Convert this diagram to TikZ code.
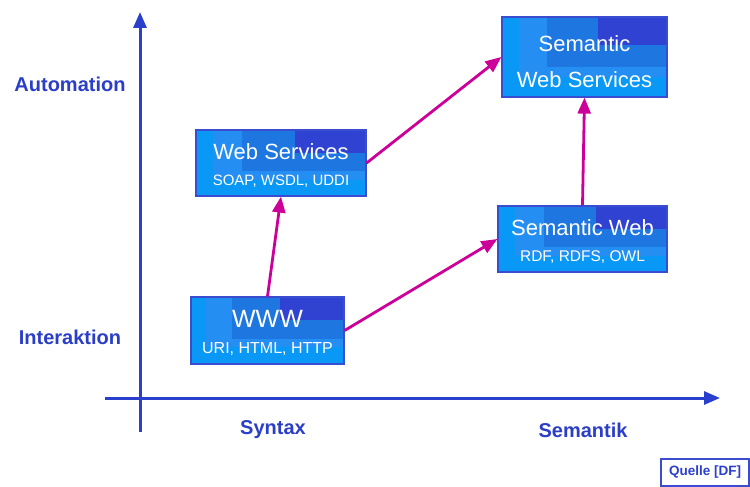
\documentclass[tikz,border=0pt]{standalone}
\usepackage{fontspec}
\setmainfont{Liberation Sans}
\usetikzlibrary{arrows.meta}
\definecolor{axisblue}{HTML}{2A3FCC}
\definecolor{labblue}{HTML}{2B3EC8}
\definecolor{cbase}{HTML}{0A98F6}
\definecolor{cA}{HTML}{258EF2}
\definecolor{cB}{HTML}{1E76E0}
\definecolor{cC}{HTML}{3042D2}
\definecolor{frameblue}{HTML}{3A4CD0}
\definecolor{arrmag}{HTML}{CC0099}
% name, x1, y1, x2, y2, title, subtitle, subtitle font size, title font size
\newcommand\layerbox[9]{%
  \pgfmathsetmacro\bw{#4-#2}\pgfmathsetmacro\bh{#5-#3}%
  \fill[cbase] (#2,#3) rectangle (#4,#5);
  \fill[cA] (#2+0.1*\bw,#3) rectangle (#4,#3+0.75*\bh);
  \fill[cB] (#2+0.27*\bw,#3) rectangle (#4,#3+0.62*\bh);
  \fill[cC] (#2+0.58*\bw,#3) rectangle (#4,#3+0.35*\bh);
  \node[boxframe, minimum width=\bw pt, minimum height=\bh pt] (#1) at ({(#2+#4)/2},{(#3+#5)/2}) {};
  \node[boxtext, font=\fontsize{#9}{24}\selectfont] (#1-t) at ({(#2+#4)/2},{#3+0.33*\bh}) {#6};
  \node[boxtext, font=\fontsize{#8}{18}\selectfont] (#1-s) at ({(#2+#4)/2},{#3+0.78*\bh}) {#7};
}
\begin{document}
\begin{tikzpicture}[x=1pt,y=-1pt,
  boxframe/.style={draw=frameblue, line width=1.2pt, inner sep=0pt},
  boxtext/.style={text=white, inner sep=0pt},
  axis/.style={draw=axisblue, line width=3pt, -{Triangle[length=16pt,width=13pt]}},
  flow/.style={draw=arrmag, line width=2.8pt, -{Triangle[length=16pt,width=13pt]}},
  axlabel/.style={text=labblue, font=\bfseries\fontsize{20}{22}\selectfont},
]
\useasboundingbox (0,0) rectangle (750,487);
\fill[white] (0,0) rectangle (750,487);
% axes
\coordinate (yb) at (140,432);
\coordinate (yt) at (140,12);
\coordinate (xl) at (105,398);
\coordinate (xr) at (720,398);
\draw[axis] (yb) -- (yt);
\draw[axis] (xl) -- (xr);
% axis labels
\node[axlabel] (lauto) at (70,84) {Automation};
\node[axlabel] (linter) at (70,337) {Interaktion};
\node[axlabel] (lsyn) at (273,430) {Syntax};
\node[axlabel] (lsem) at (583,430) {Semantik};
% boxes
\layerbox{ws}{196}{130}{366}{196}{Web Services}{SOAP, WSDL, UDDI}{15}{22}
\layerbox{sws}{502}{17}{667}{97}{Semantic}{Web Services}{22}{22}
\layerbox{sw}{498}{206}{667}{272}{Semantic Web}{RDF, RDFS, OWL}{15.5}{22}
\layerbox{www}{191}{297}{344}{364}{WWW}{URI, HTML, HTTP}{16}{25}
% arrows
\draw[flow] (www.north) -- (ws.south);
\draw[flow] (www.east) -- (sw.west);
\draw[flow] (ws.east) -- (sws.west);
\draw[flow] (sw.north) -- (sws.south);
% source
\node[draw=frameblue, line width=1.2pt, text=axisblue, font=\bfseries\fontsize{13.5}{15}\selectfont, minimum width=88pt, minimum height=27pt, inner sep=0pt] (quelle) at (705,472.5) {Quelle [DF]};
\end{tikzpicture}
\end{document}
